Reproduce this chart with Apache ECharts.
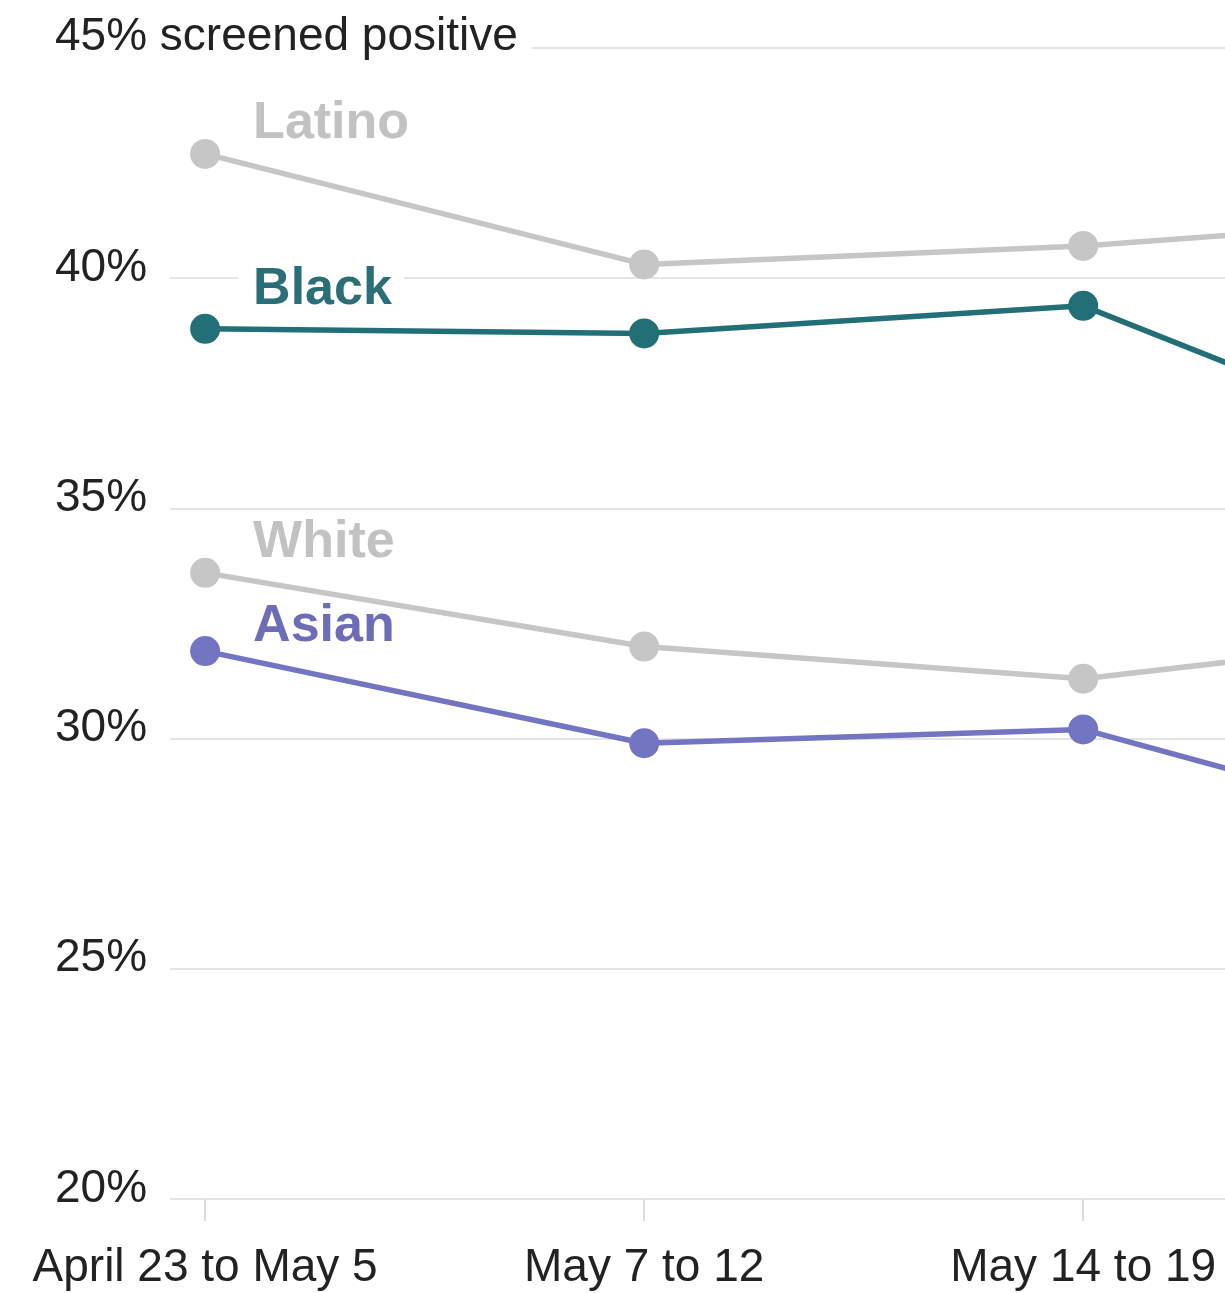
<!DOCTYPE html>
<html>
<head>
<meta charset="utf-8">
<script src="https://cdn.jsdelivr.net/npm/echarts@6/dist/echarts.min.js"></script>
<style>
  html, body { margin: 0; padding: 0; background: #fff; }
  #chart { width: 1225px; height: 1293px; }
</style>
</head>
<body>
<div id="chart"></div>
<script>
// survey weeks (the 4th one is cut off at the right edge)
const weeks = ['April 23 to May 5', 'May 7 to 12', 'May 14 to 19', 'May 21 to 26'];

const latino = [42.7, 40.3, 40.7, 41.4];
const black  = [38.9, 38.8, 39.4, 35.6];
const white  = [33.6, 32.0, 31.3, 32.4];
const asian  = [31.9, 29.9, 30.2, 27.6];

const yTicks = [20, 25, 30, 35, 40, 45];

const font = '"Liberation Sans", Arial, sans-serif';

function makeSeries(name, values, color, labelColor, dy, bg) {
	return {
		name: name,
		type: 'line',
		data: values.map((v, i) => [i, v]),
		symbol: 'circle',
		symbolSize: 30,
		clip: true,
		lineStyle: { color: color, width: 5.5 },
		itemStyle: { color: color },
		label: {
			show: true,
			position: 'right',
			distance: 18,
			offset: [0, dy],
			formatter: (p) => p.dataIndex === 0 ? name : '',
			color: labelColor,
			fontFamily: font,
			fontWeight: 'bold',
			fontSize: 52,
			lineHeight: 36,
			backgroundColor: bg ? '#fff' : 'transparent',
			padding: [0, 12, 0, 15]
		},
		emphasis: { disabled: true },
		z: 3
	};
}

let mychart = echarts.init(document.getElementById('chart'));
let option = {
	animation: false,
	grid: { left: 170, right: 0, top: 48, bottom: 94 },
	xAxis: {
		type: 'value',
		min: -0.08,
		max: 2.323,
		axisLine: { show: false },
		splitLine: { show: false },
		axisTick: {
			show: true,
			customValues: [0, 1, 2],
			length: 22,
			lineStyle: { color: '#dddddd', width: 2 }
		},
		axisLabel: {
			customValues: [0, 1, 2],
			formatter: (v) => weeks[v],
			margin: 46,
			color: '#222',
			fontFamily: font,
			fontSize: 46
		}
	},
	yAxis: {
		type: 'value',
		min: yTicks[0],
		max: yTicks[yTicks.length - 1],
		interval: 5,
		axisLine: { show: false },
		axisTick: { show: false },
		splitLine: { lineStyle: { color: '#e4e4e4', width: 2 } },
		axisLabel: {
			align: 'left',
			verticalAlign: 'bottom',
			margin: 115,
			formatter: (v) => v === 45 ? '{top|' + v + '% screened positive}' : '{v|' + v + '%}',
			rich: {
				top: {
					color: '#222', fontFamily: font, fontSize: 46, lineHeight: 18,
					backgroundColor: '#fff', padding: [0, 14, 4, 0]
				},
				v: { color: '#222', fontFamily: font, fontSize: 46, lineHeight: 20 }
			}
		}
	},
	series: [
		makeSeries('Latino', latino, '#c6c6c6', '#c2c2c2', -30, false),
		makeSeries('Black', black, '#236f78', '#2a6e77', -39, true),
		makeSeries('White', white, '#c6c6c6', '#c2c2c2', -30, false),
		makeSeries('Asian', asian, '#7475c2', '#6c6db6', -24, false)
	]
};

mychart.setOption(option);
</script>
</body>
</html>
